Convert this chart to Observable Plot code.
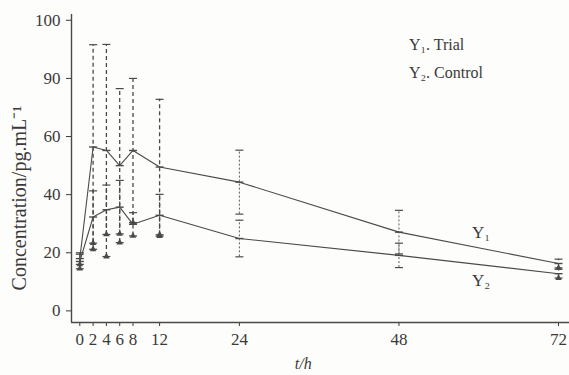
<!DOCTYPE html>
<html>
<head>
<meta charset="utf-8">
<script src="https://cdn.jsdelivr.net/npm/d3@7"></script>
<script src="https://cdn.jsdelivr.net/npm/@observablehq/plot@0.6"></script>
<style>
  html, body { margin: 0; padding: 0; background: #fdfdfb; }
  #chart svg { display: block; background: #fdfdfb; }
</style>
</head>
<body>
<div id="chart"></div>
<script>
// ---- data ----
const time = [0, 2, 4, 6, 8, 12, 24, 48, 72];
const trialMean   = [18, 56.4, 55.2, 50, 55.2, 49.5, 44.3, 27.1, 16.3];
const trialSD     = [2, 35.2, 36.5, 26.5, 24.8, 23.3, 11, 7.5, 1.5];
const controlMean = [17, 32.3, 34.8, 35.7, 29.8, 32.9, 24.9, 19.1, 12.8];
const controlSD   = [2.5, 9, 8.5, 9.2, 4, 7.2, 6.3, 4.2, 1.5];
const xTicks = [0, 2, 4, 6, 8, 12, 24, 48, 72];
const yTicks = [0, 20, 40, 60, 80, 100];
const yTickLabels = ["0", "20", "40", "60", "90", "100"];
const seriesNames = ["Y\u2081", "Y\u2082"];
const legendLabels = ["Y\u2081. Trial", "Y\u2082. Control"];
const xTitle = "t/h";
const yTitle = "Concentration/pg.mL\u207B\u00B9";

// ---- tables ----
const trial = time.map((t, i) => ({t, m: trialMean[i], sd: trialSD[i]}));
const control = time.map((t, i) => ({t, m: controlMean[i], sd: controlSD[i]}));
const bars = [...trial, ...control];
const early = bars.filter(d => d.t <= 12 || d.t === 72);
const late = bars.filter(d => d.t > 12 && d.t < 72);

const hline = {
  draw(context, size) {
    const r = Math.sqrt(size / Math.PI);
    context.moveTo(-r, 0);
    context.lineTo(r, 0);
  }
};

const ink = "#4a4a4a";
const xDomain = [-1.25, 73.65];
const yDomain = [-4, 102];

const chart = Plot.plot({
  width: 569,
  height: 375,
  marginLeft: 71,
  marginRight: 0,
  marginTop: 14,
  marginBottom: 53,
  style: {fontFamily: "'Liberation Serif', 'Times New Roman', serif", fontSize: "17px", color: "#3a3a3a", background: "#fdfdfb"},
  x: {
    domain: xDomain,
    ticks: xTicks,
    tickSize: 4,
    tickPadding: 6,
    label: null
  },
  y: {
    domain: yDomain,
    ticks: yTicks,
    tickFormat: d => yTickLabels[yTicks.indexOf(d)],
    tickSize: 5,
    tickPadding: 6,
    label: null
  },
  marks: [
    Plot.ruleX([xDomain[0]], {stroke: ink, strokeWidth: 1.4}),
    Plot.ruleY([yDomain[0]], {stroke: ink, strokeWidth: 1.4}),
    // error bars
    Plot.ruleX(early, {x: "t", y1: d => d.m - d.sd, y2: d => d.m + d.sd, stroke: ink, strokeWidth: 1.3, strokeDasharray: "4,3"}),
    Plot.ruleX(late, {x: "t", y1: d => d.m - d.sd, y2: d => d.m + d.sd, stroke: ink, strokeWidth: 0.9, strokeDasharray: "2,2"}),
    Plot.dot(bars, {x: "t", y: d => d.m + d.sd, symbol: hline, r: 4, stroke: ink, strokeWidth: 1.2}),
    Plot.dot(bars, {x: "t", y: d => d.m - d.sd, symbol: hline, r: 4, stroke: ink, strokeWidth: 1.2}),
    Plot.dot(early, {x: "t", y: d => d.m - d.sd, symbol: "triangle", r: 2.4, fill: ink, stroke: "none"}),
    // series lines
    Plot.line(trial, {x: "t", y: "m", stroke: ink, strokeWidth: 1.1}),
    Plot.line(control, {x: "t", y: "m", stroke: ink, strokeWidth: 1.1}),
    Plot.dot(bars, {x: "t", y: "m", symbol: hline, r: 4, stroke: ink, strokeWidth: 1.4}),
    // line labels
    Plot.text(seriesNames, {x: [59, 59], y: [27, 10.5], text: d => d, textAnchor: "start", fill: "#3a3a3a", fontSize: 17}),
    // legend
    Plot.text(legendLabels, {x: [49.5, 49.5], y: [91.5, 82], text: d => d, textAnchor: "start", fill: "#3a3a3a", fontSize: 16}),
    // axis titles
    Plot.text([yTitle], {x: [xDomain[0]], y: [38.8], dx: -52, rotate: -90, text: d => d, fill: "#3a3a3a", fontSize: 20}),
    Plot.text([xTitle], {x: [33.6], frameAnchor: "bottom", dy: 46, text: d => d, fill: "#3a3a3a", fontSize: 16, fontStyle: "italic"})
  ]
});
document.getElementById("chart").append(chart);
</script>
</body>
</html>
